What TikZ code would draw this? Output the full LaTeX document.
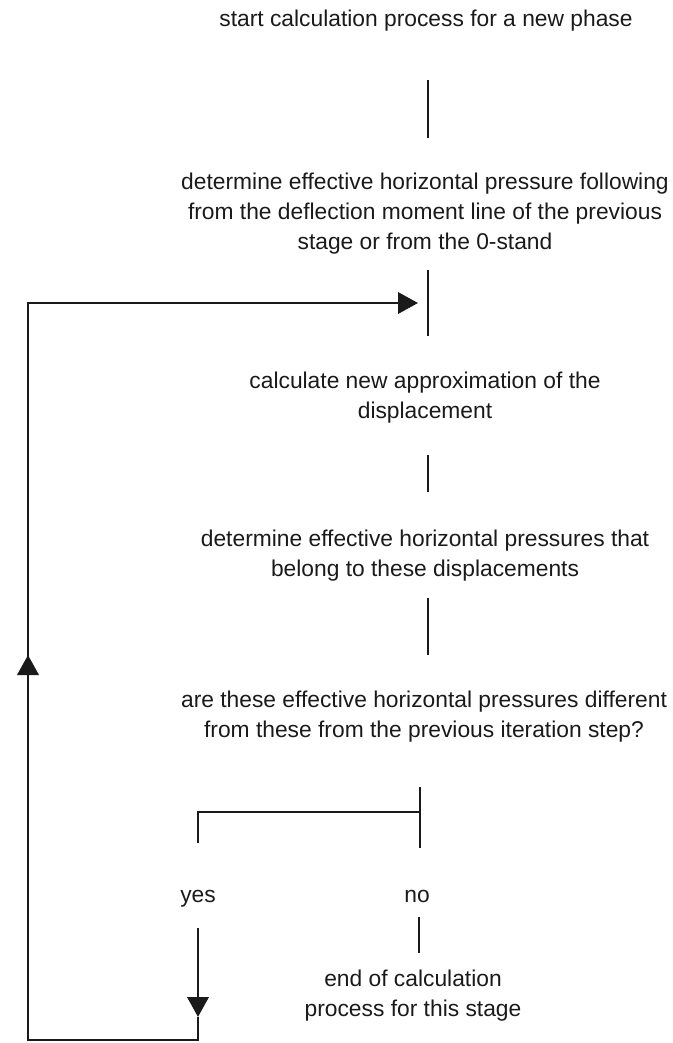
\documentclass[tikz,border=0pt]{standalone}
\usepackage{fontspec}
\setmainfont{Liberation Sans}
\usetikzlibrary{arrows.meta}
\definecolor{ink}{HTML}{1A1A1A}
\begin{document}
\begin{tikzpicture}[x=0.75pt,y=-0.75pt,
  txt/.style={inner sep=0pt,align=center,text=ink,font=\fontsize{17.1}{22.5}\selectfont},
  conn/.style={draw=ink,line width=2pt},
  tri/.style={-{Triangle[length=15pt,width=16pt]}}]
\useasboundingbox (0,0) rectangle (672,1043);
\node[txt] (t1) at (426,21) {start calculation process for a new phase};
\node[txt] (t2) at (425,214) {determine effective horizontal pressure following\\from the deflection moment line of the previous\\stage or from the 0-stand};
\node[txt] (t3) at (425,398) {calculate new approximation of the\\displacement};
\node[txt] (t4) at (425,556) {determine effective horizontal pressures that\\belong to these displacements};
\node[txt] (t5) at (424,717) {are these effective horizontal pressures different\\from these from the previous iteration step?};
\node[txt] (yes) at (198,899) {yes};
\node[txt] (no) at (417,896) {no};
\node[txt] (t6) at (413,996) {end of calculation\\process for this stage};
% coordinates
\coordinate (a1) at (428,80);
\coordinate (a2) at (428,138);
\coordinate (b1) at (428,270);
\coordinate (b2) at (428,336);
\coordinate (bin) at (418,303);
\coordinate (c1) at (428,455);
\coordinate (c2) at (428,492);
\coordinate (d1) at (428,598);
\coordinate (d2) at (428,655);
\coordinate (e1) at (420,787);
\coordinate (e2) at (420,848);
\coordinate (ej) at (420,812);
\coordinate (y1) at (198,843);
\coordinate (y2) at (198,928);
\coordinate (ytip) at (198,1017);
\coordinate (corner) at (198,1040);
\coordinate (left) at (28,1040);
\coordinate (uptip) at (28,655);
\coordinate (topleft) at (28,303);
\coordinate (n1) at (419,917);
\coordinate (n2) at (419,953);
\draw[conn] (a1) -- (a2);
\draw[conn] (b1) -- (b2);
\draw[conn] (c1) -- (c2);
\draw[conn] (d1) -- (d2);
\draw[conn] (e1) -- (e2);
\draw[conn] (y1) |- (ej);
\draw[conn] (n1) -- (n2);
\draw[conn,tri] (y2) -- (ytip);
\draw[conn] (ytip) -- (corner) -- (left) -- (uptip);
\draw[conn,tri] (left) -- (uptip);
\draw[conn,tri] (uptip) -- (topleft) -- (bin);
\end{tikzpicture}
\end{document}
